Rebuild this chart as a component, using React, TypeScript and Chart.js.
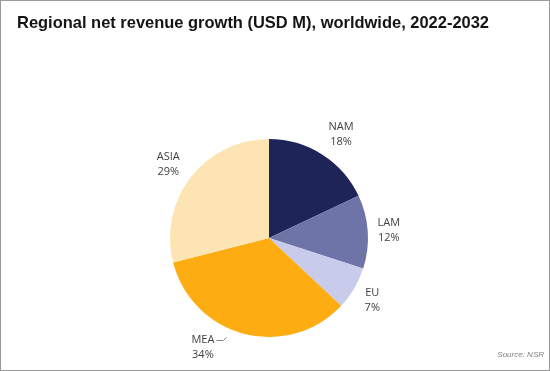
import React, { useEffect, useRef } from "react";
import { Chart, registerables } from "chart.js";

Chart.register(...registerables);

const TITLE = "Regional net revenue growth (USD M), worldwide, 2022-2032";
const SOURCE = "Source: NSR";
const regions = ["NAM", "LAM", "EU", "MEA", "ASIA"];
const shares = [18, 12, 7, 34, 29];
const colors = ["#1e2358", "#6f74a8", "#c8cbea", "#fdad12", "#fde5b3"];

// label placement styling: radial offset beyond the pie edge, plus a small nudge
const labelStyle: Record<string, { off: number; dx: number; dy: number }> = {
  NAM: { off: 26, dx: 5, dy: 2 },
  LAM: { off: 21, dx: 0, dy: 0 },
  EU: { off: 21, dx: 0, dy: 1 },
  MEA: { off: 18, dx: -37, dy: -4 },
  ASIA: { off: 26, dx: -2, dy: 3 },
};

const decorPlugin = {
  id: "decor",
  beforeDraw(chart: any) {
    const { ctx, width, height } = chart;
    ctx.save();
    ctx.fillStyle = "#ffffff";
    ctx.fillRect(0, 0, width, height);
    ctx.strokeStyle = "#9a9a9a";
    ctx.lineWidth = 1;
    ctx.strokeRect(0.5, 0.5, width - 1, height - 1);
    ctx.fillStyle = "#141414";
    ctx.font = "bold 17px 'Liberation Sans', sans-serif";
    ctx.textBaseline = "alphabetic";
    ctx.textAlign = "left";
    ctx.fillText(TITLE, 17, 28, 472);
    ctx.fillStyle = "#7f7f7f";
    ctx.font = "italic 8px 'Liberation Sans', sans-serif";
    ctx.textAlign = "right";
    ctx.fillText(SOURCE, 544, 357);
    ctx.restore();
  },
  afterDatasetsDraw(chart: any) {
    const { ctx } = chart;
    const meta = chart.getDatasetMeta(0);
    ctx.save();
    ctx.font = "11px 'Open Sans', 'Liberation Sans', sans-serif";
    ctx.fillStyle = "#404040";
    ctx.textAlign = "center";
    ctx.textBaseline = "middle";
    meta.data.forEach((arc: any, i: number) => {
      const p = arc.getProps(["x", "y", "startAngle", "endAngle", "outerRadius"], true);
      const mid = (p.startAngle + p.endAngle) / 2;
      const st = labelStyle[regions[i]];
      const r = p.outerRadius + st.off;
      const cx = p.x + Math.cos(mid) * r + st.dx;
      const cy = p.y + Math.sin(mid) * r + st.dy;
      ctx.fillText(regions[i], cx, cy - 7.5);
      ctx.fillText(shares[i] + "%", cx, cy + 7.5);
      if (regions[i] === "MEA") {
        const w = ctx.measureText(regions[i]).width;
        const lx = cx + w / 2 + 2;
        const ly = Math.round(cy - 7.5) + 0.5;
        ctx.strokeStyle = "#7f7f7f";
        ctx.lineWidth = 1;
        ctx.beginPath();
        ctx.moveTo(lx, ly);
        ctx.lineTo(lx + 7, ly);
        ctx.lineTo(lx + 10, ly - 3);
        ctx.stroke();
      }
    });
    ctx.restore();
  },
};

export default function App() {
  const ref = useRef<HTMLCanvasElement | null>(null);
  useEffect(() => {
    if (!ref.current) return;
    const chart = new Chart(ref.current, {
      type: "pie",
      data: {
        labels: regions,
        datasets: [
          {
            data: shares,
            backgroundColor: colors,
            borderWidth: 0,
          },
        ],
      },
      options: {
        animation: false,
        responsive: false,
        radius: 99,
        layout: { padding: { left: 140, right: 152, top: 130, bottom: 25 } },
        plugins: {
          legend: { display: false },
          title: { display: false },
          tooltip: { enabled: false },
        },
      } as any,
      plugins: [decorPlugin],
    });
    return () => chart.destroy();
  }, []);
  return (
    <div style={{ position: "fixed", left: 0, top: 0, width: 550, height: 371 }}>
      <canvas ref={ref} width={550} height={371} style={{ display: "block", width: 550, height: 371 }} />
    </div>
  );
}
